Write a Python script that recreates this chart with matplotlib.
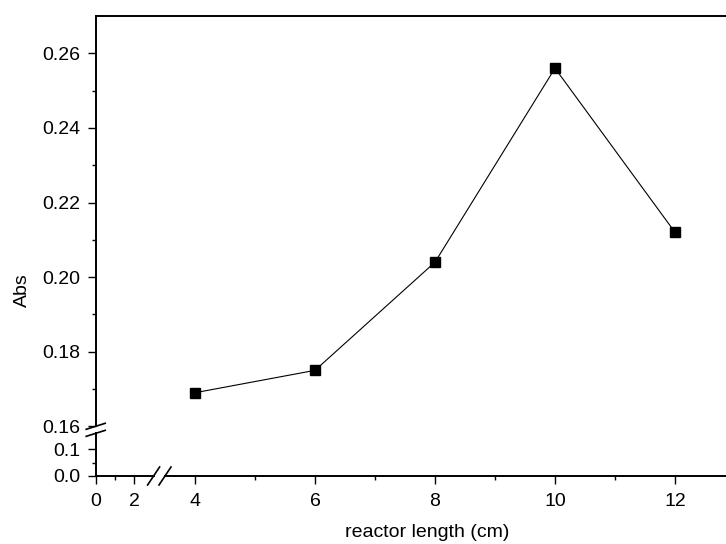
import numpy as np
import matplotlib
matplotlib.use("Agg")
import matplotlib.pyplot as plt
from matplotlib.lines import Line2D

# ---- data ----
reactor_length = [4, 6, 8, 10, 12]
absorbance = [0.169, 0.175, 0.204, 0.256, 0.212]

x_major = [0, 2, 4, 6, 8, 10, 12]
x_minor = [1, 5, 7, 9, 11]
y_major = [0.0, 0.1, 0.16, 0.18, 0.20, 0.22, 0.24, 0.26]
y_major_labels = ["0.0", "0.1", "0.16", "0.18", "0.20", "0.22", "0.24", "0.26"]
y_minor = [0.05, 0.17, 0.19, 0.21, 0.23, 0.25]

# ---- broken-axis scales (piecewise linear) ----
XB = (3.0, 3.5)          # x break
YB = (0.158, 0.16)       # y break
xs_d = np.array([-100.0, 0.0, XB[0], XB[1], 4.0, 100.0])
xs_v = np.array([-100 * 19.3, 0.0, XB[0] * 19.3, 69.3, 99.3, 99.3 + 96 * 60])
ys_d = np.array([-10.0, 0.0, YB[0], YB[1], 10.0])
ys_v = np.array([-2700.0, 0.0, YB[0] * 270, 49.7, 49.7 + (10 - 0.16) * 3730])

def fx(x):
    return np.interp(x, xs_d, xs_v)

def ix(v):
    return np.interp(v, xs_v, xs_d)

def fy(y):
    return np.interp(y, ys_d, ys_v)

def iy(v):
    return np.interp(v, ys_v, ys_d)

plt.rcParams['font.family'] = ['Liberation Sans', 'DejaVu Sans']

W, H = 726, 544
fig = plt.figure(figsize=(W / 100, H / 100), dpi=100)
ax = fig.add_axes([95.7 / W, (H - 476) / H, (W - 95.7) / W, (476 - 16) / H])
ax.set_xscale('function', functions=(fx, ix))
ax.set_yscale('function', functions=(fy, iy))
ax.set_xlim(0, 4 + (W - 195) / 60)
ax.set_ylim(0, 0.27)

ax.plot(reactor_length, absorbance, color='black', lw=0.8,
        marker='s', markersize=7.5, markerfacecolor='black', markeredgecolor='black')

ax.set_xticks(x_major)
ax.set_xticklabels([str(v) for v in x_major])
ax.set_xticks(x_minor, minor=True)
ax.set_yticks(y_major)
ax.set_yticklabels(y_major_labels)
ax.set_yticks(y_minor, minor=True)
ax.tick_params(which='major', direction='out', length=6, width=1.0, labelsize=14)
ax.tick_params(axis='x', which='major', pad=6)
ax.tick_params(axis='y', which='major', pad=5)
ax.tick_params(which='minor', direction='out', length=3, width=1.0)
ax.tick_params(top=False, right=False)

for s in ['left', 'bottom', 'right']:
    ax.spines[s].set_visible(False)
ax.spines['top'].set_linewidth(1.4)

# broken spines
lw = 1.4
ax.add_line(Line2D([0, 0], [0, YB[0]], color='black', lw=lw, clip_on=False))
ax.add_line(Line2D([0, 0], [YB[1], 0.27], color='black', lw=lw, clip_on=False))
ax.add_line(Line2D([0, XB[0]], [0, 0], color='black', lw=lw, clip_on=False))
ax.add_line(Line2D([XB[1], ax.get_xlim()[1]], [0, 0], color='black', lw=lw, clip_on=False))

# break marks (in pixel offsets)
fig.canvas.draw()
def slash(xd, yd, dx, dy):
    px, py = ax.transData.transform((xd, yd))
    fig.add_artist(Line2D([px - dx, px + dx], [py - dy, py + dy], color='black',
                          lw=1.2, transform=None))
slash(0, YB[0], 9.5, 3)
slash(0, YB[1], 9.5, 3)
slash(XB[0], 0, 6, 9)
slash(XB[1], 0, 6, 9)

ax.set_xlabel('reactor length (cm)', fontsize=14)
ax.xaxis.set_label_coords(0.526, -0.105)
ax.set_ylabel('Abs', fontsize=14)
ax.yaxis.set_label_coords(-0.103, 0.405)

fig.savefig('out.png', dpi=100)
